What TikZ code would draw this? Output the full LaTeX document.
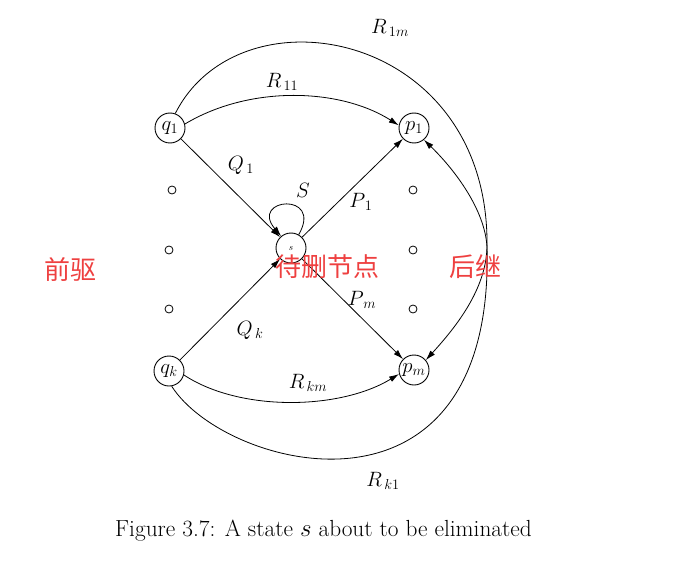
\documentclass[tikz,border=0pt]{standalone}
\usepackage{fontspec}
\newfontfamily\cjk{Noto Sans CJK SC}
\usetikzlibrary{arrows.meta}
\definecolor{cnred}{RGB}{238,64,64}
\begin{document}
\begin{tikzpicture}[x=1pt,y=-1pt,
  state/.style={circle,draw,line width=0.9pt,minimum size=30pt,inner sep=0pt,font=\fontsize{22}{22}\selectfont},
  smalldot/.style={circle,draw,line width=0.8pt,minimum size=8pt,inner sep=0pt},
  edgeline/.style={line width=0.8pt},
  arr/.style={edgeline,-{Latex[length=10pt,width=6pt]}},
  lbl/.style={font=\fontsize{20}{20}\selectfont},
  cnlbl/.style={text=cnred,font=\cjk\fontsize{26}{26}\selectfont},
  caption/.style={font=\fontsize{23.3}{24}\selectfont,anchor=base}
]
\useasboundingbox (0,0) rectangle (679,572);

% states
\node[state] (q1) at (170,128) {$q_1$};
\node[state] (p1) at (414,128) {$p_1$};
\node[state] (s)  at (291,248) {\fontsize{9}{9}\selectfont\raisebox{-4pt}{$s$}};
\node[state] (qk) at (169,371) {$q_k$};
\node[state] (pm) at (414,370) {$p_m$};

% ellipsis dots
\node[smalldot] (dl1) at (172,190) {};
\node[smalldot] (dl2) at (169,250) {};
\node[smalldot] (dl3) at (169,309) {};
\node[smalldot] (dr1) at (413,190) {};
\node[smalldot] (dr2) at (413,250) {};
\node[smalldot] (dr3) at (413,309) {};

% straight edges through s
\draw[arr] (q1) -- (s);
\draw[arr] (qk) -- (s);
\draw[arr] (s) -- (p1);
\draw[arr] (s) -- (pm);

% self loop (y axis points down, so angles are mirrored)
\draw[arr] (s.60) .. controls +(-60:50) and +(-130:50) .. (s.130);

% direct edges
\draw[arr] (q1.15) .. controls (250,85) and (340,88) .. (p1.170);
\draw[arr] (qk.-15) .. controls (240,412) and (340,410) .. (pm.195);

% outer arcs
\coordinate (X) at (487,247);
\draw[arr] (q1.70) .. controls (240,-15) and (490,30) .. (X)
           .. controls (486,290) and (455,328) .. (pm.40);
\draw[arr] (qk.-80) .. controls (225,470) and (495,540) .. (X)
           .. controls (485,210) and (455,170) .. (p1.-50);

% labels
\node[lbl] (l1m) at (390,28) {$R_{\,1m}$};
\node[lbl] (l11) at (282,82) {$R_{\,11}$};
\node[lbl] (lq1) at (241,165) {$Q_{\,1}$};
\node[lbl] (lS)  at (303,190) {$S$};
\node[lbl] (lp1) at (361,202) {$P_{\,1}$};
\node[lbl] (lpm) at (362,300) {$P_{\,m}$};
\node[lbl] (lqk) at (250,330) {$Q_{\,k}$};
\node[lbl] (lkm) at (308,383) {$R_{\,km}$};
\node[lbl] (lk1) at (383,481) {$R_{\,k1}$};

% red annotations
\node[cnlbl] (pre) at (70,270) {前驱};
\node[cnlbl] (del) at (327,267) {待删节点};
\node[cnlbl] (suc) at (475,267) {后继};

% caption
\node[caption] (cap) at (323.5,536) {Figure 3.7: A state $s$ about to be eliminated};
\end{tikzpicture}
\end{document}
